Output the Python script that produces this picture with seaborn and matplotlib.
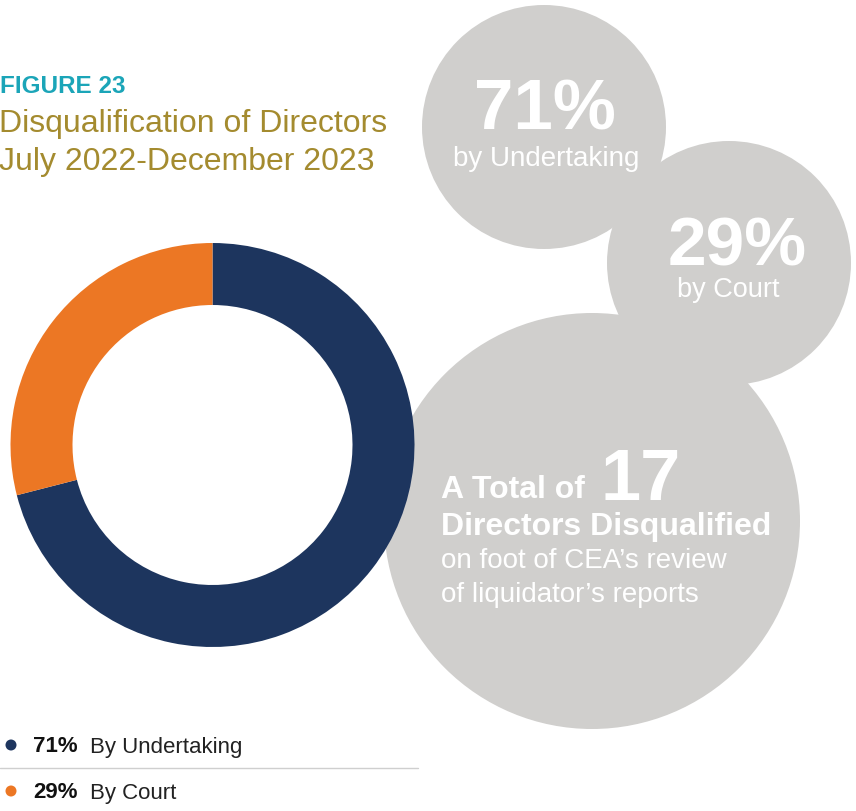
import matplotlib
matplotlib.use("Agg")
import matplotlib.pyplot as plt
from matplotlib.patches import Circle
import seaborn as sns

# --- data ---------------------------------------------------------------
categories = ["By Undertaking", "By Court"]
shares = [71, 29]                      # percent of directors disqualified
total_directors = 17
caption_lines = ["on foot of CEA\u2019s review", "of liquidator\u2019s reports"]

# --- style --------------------------------------------------------------
sns.set_theme(style="white")
plt.rcParams["font.family"] = ["Liberation Sans", "DejaVu Sans"]

palette = sns.color_palette(["#1d355e", "#ec7724"])
bubble_grey = "#d0cfcd"
teal = "#1ba5b8"
gold = "#a48b2f"
W, H = 856, 811

fig = plt.figure(figsize=(W / 100, H / 100), dpi=100)
ax = fig.add_axes([0, 0, 1, 1])

# background bubbles (pixel-space centres/radii)
for cx, cy, r in [(544, 127, 122), (729, 263, 122), (592, 521, 208)]:
    ax.add_patch(Circle((cx, cy), r, facecolor=bubble_grey, edgecolor="none", zorder=0))

# donut: y axis is flipped below, so counterclock in data space reads clockwise on screen
ax.pie(shares, colors=palette, startangle=-90, counterclock=True,
       radius=202, center=(212.5, 445),
       wedgeprops=dict(width=62, edgecolor="none", linewidth=0))

ax.set_xlim(0, W)
ax.set_ylim(H, 0)
ax.set_aspect("equal")
ax.axis("off")

# title block
ax.text(0, 93, "FIGURE 23", color=teal, fontsize=17.5, fontweight="bold", va="baseline", ha="left")
ax.text(-1, 132, "Disqualification of Directors", color=gold, fontsize=23, va="baseline", ha="left")
ax.text(-1, 170, "July 2022-December 2023", color=gold, fontsize=23, va="baseline", ha="left")

# bubble annotations
ax.text(545, 129, f"{shares[0]}%", color="white", fontsize=51, fontweight="bold", ha="center", va="baseline")
ax.text(546, 166, "by Undertaking", color="white", fontsize=20, ha="center", va="baseline")
ax.text(737, 265, f"{shares[1]}%", color="white", fontsize=50, fontweight="bold", ha="center", va="baseline")
ax.text(728, 297, "by Court", color="white", fontsize=19.5, ha="center", va="baseline")

ax.text(441, 498, "A Total of", color="white", fontsize=23, fontweight="bold", ha="left", va="baseline")
ax.text(601, 500, f"{total_directors}", color="white", fontsize=52, fontweight="bold", ha="left", va="baseline")
ax.text(441, 535, "Directors Disqualified", color="white", fontsize=23, fontweight="bold", ha="left", va="baseline")
ax.text(441, 568, caption_lines[0], color="white", fontsize=20, ha="left", va="baseline")
ax.text(441, 602, caption_lines[1], color="white", fontsize=20, ha="left", va="baseline")

# legend
legend_rows = [745, 791]
for (label, share, color, ymark) in zip(categories, shares, palette, legend_rows):
    ax.add_patch(Circle((11, ymark), 5.5, facecolor=color, edgecolor="none"))
    ax.text(33, ymark + 7.5, f"{share}%", color="#111111", fontsize=16, fontweight="bold", ha="left", va="baseline")
    ax.text(90, ymark + 7.5, label, color="#222222", fontsize=16, ha="left", va="baseline")
ax.plot([0, 418], [768, 768], color="#cfcfcf", linewidth=1.0)

fig.savefig("out.png", dpi=100, facecolor="white")
